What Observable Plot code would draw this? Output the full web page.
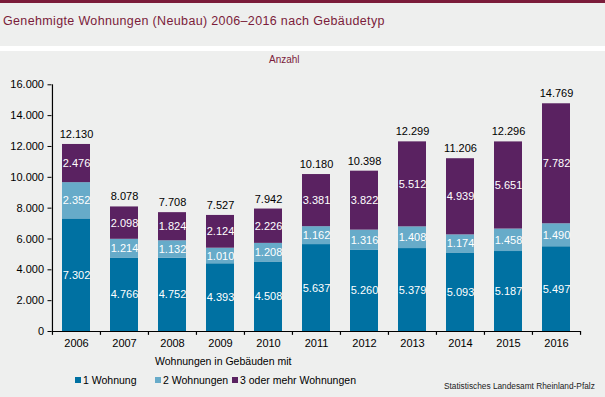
<!DOCTYPE html>
<html>
<head>
<meta charset="utf-8">
<script src="https://cdn.jsdelivr.net/npm/d3@7"></script>
<script src="https://cdn.jsdelivr.net/npm/@observablehq/plot@0.6"></script>
<style>
  html, body { margin: 0; padding: 0; }
  body { width: 605px; height: 397px; overflow: hidden; background: #eeefee; font-family: "Liberation Sans", Arial, sans-serif; }
  #wrap { position: relative; width: 605px; height: 397px; background: #eeefee; }
  #topbar { position: absolute; left: 0; top: 0; width: 605px; height: 3px; background: #7b1c3a; }
  #title { position: absolute; left: 3px; top: 14px; font-size: 12.5px; letter-spacing: 0.35px; color: #7b1c3a; white-space: nowrap; }
  #strip { position: absolute; left: 0; top: 46px; width: 605px; height: 5px; background: #ffffff; }
  #unit { position: absolute; left: 269px; top: 54px; font-size: 10px; color: #7b1c3a; }
  #chart { position: absolute; left: 0; top: 51px; }
  #xlabel { position: absolute; left: 155px; top: 355px; font-size: 10.5px; color: #000; white-space: nowrap; }
  #legend { position: absolute; left: 75px; top: 374px; font-size: 10.5px; color: #000; white-space: nowrap; }
  #legend span.item { position: absolute; top: 0; }
  #legend span.sw { display: inline-block; width: 6px; height: 6px; margin-right: 2px; vertical-align: 1px; }
  #source { position: absolute; left: 444px; top: 381px; font-size: 8.3px; color: #222; white-space: nowrap; }
</style>
</head>
<body>
<div id="wrap">
  <div id="topbar"></div>
  <div id="title">Genehmigte Wohnungen (Neubau) 2006–2016 nach Gebäudetyp</div>
  <div id="strip"></div>
  <div id="unit">Anzahl</div>
  <div id="chart"></div>
  <div id="xlabel">Wohnungen in Gebäuden mit</div>
  <div id="legend"></div>
  <div id="source">Statistisches Landesamt Rheinland-Pfalz</div>
</div>
<script>
const years = ["2006","2007","2008","2009","2010","2011","2012","2013","2014","2015","2016"];
const seriesNames = ["1 Wohnung", "2 Wohnungen", "3 oder mehr Wohnungen"];
const oneFlat = [7302, 4766, 4752, 4393, 4508, 5637, 5260, 5379, 5093, 5187, 5497];
const twoFlats = [2352, 1214, 1132, 1010, 1208, 1162, 1316, 1408, 1174, 1458, 1490];
const threePlus = [2476, 2098, 1824, 2124, 2226, 3381, 3822, 5512, 4939, 5651, 7782];
const totals = [12130, 8078, 7708, 7527, 7942, 10180, 10398, 12299, 11206, 12296, 14769];
const yTicks = [0, 2000, 4000, 6000, 8000, 10000, 12000, 14000, 16000];
const colors = ["#0071a2", "#67abc9", "#5a2261"];

const de = d3.formatLocale({decimal: ",", thousands: ".", grouping: [3], currency: ["", " €"]});
const fmt = de.format(",d");

const seriesValues = [oneFlat, twoFlats, threePlus];
const data = [];
seriesNames.forEach((s, i) => years.forEach((y, j) => data.push({year: y, type: s, value: seriesValues[i][j]})));
const totalData = years.map((y, j) => ({year: y, total: totals[j]}));

const step = (605 - 51.5 - 24.5) / years.length;

const chart = Plot.plot({
  width: 605,
  height: 346,
  marginLeft: 51.5,
  marginRight: 24.5,
  marginTop: 33.3,
  marginBottom: 66,
  style: {background: "transparent", fontFamily: "Liberation Sans, Arial, sans-serif", fontSize: "11px", color: "#000"},
  x: {domain: years, paddingInner: 0.42, paddingOuter: 0.21, axis: null, label: null},
  y: {domain: [0, 16000], axis: null, label: null},
  color: {domain: seriesNames, range: colors},
  marks: [
    Plot.barY(data, {x: "year", y: "value", fill: "type", order: seriesNames}),
    Plot.text(data, Plot.stackY({x: "year", y: "value", z: "type", order: seriesNames, text: d => fmt(d.value), fill: "white", fontSize: 11})),
    Plot.text(totalData, {x: "year", y: "total", text: d => fmt(d.total), dy: -10, fill: "#000", fontSize: 11}),
    Plot.ruleY([0], {stroke: "#000", strokeWidth: 1.2}),
    Plot.ruleX(years.slice(0, 1), {x: d => d, dx: -step / 2, y1: 0, y2: 16000, stroke: "#000", strokeWidth: 1.2}),
    Plot.ruleX(years, {x: d => d, dx: -step / 2, y1: 0, y2: -250, stroke: "#000", strokeWidth: 1.2}),
    Plot.ruleX(years.slice(-1), {x: d => d, dx: step / 2, y1: 0, y2: -250, stroke: "#000", strokeWidth: 1.2}),
    Plot.axisY({ticks: yTicks, tickFormat: fmt, tickSize: 4, tickPadding: 4, fontSize: 11, stroke: "#000", label: null}),
    Plot.axisX({tickSize: 0, tickPadding: 8, fontSize: 11, label: null})
  ]
});
document.getElementById("chart").appendChild(chart);

const legend = document.getElementById("legend");
const offsets = [0, 80, 157];
seriesNames.forEach((s, i) => {
  const item = document.createElement("span");
  item.className = "item";
  item.style.left = offsets[i] + "px";
  item.innerHTML = `<span class="sw" style="background:${colors[i]}"></span>${s}`;
  legend.appendChild(item);
});
</script>
</body>
</html>
